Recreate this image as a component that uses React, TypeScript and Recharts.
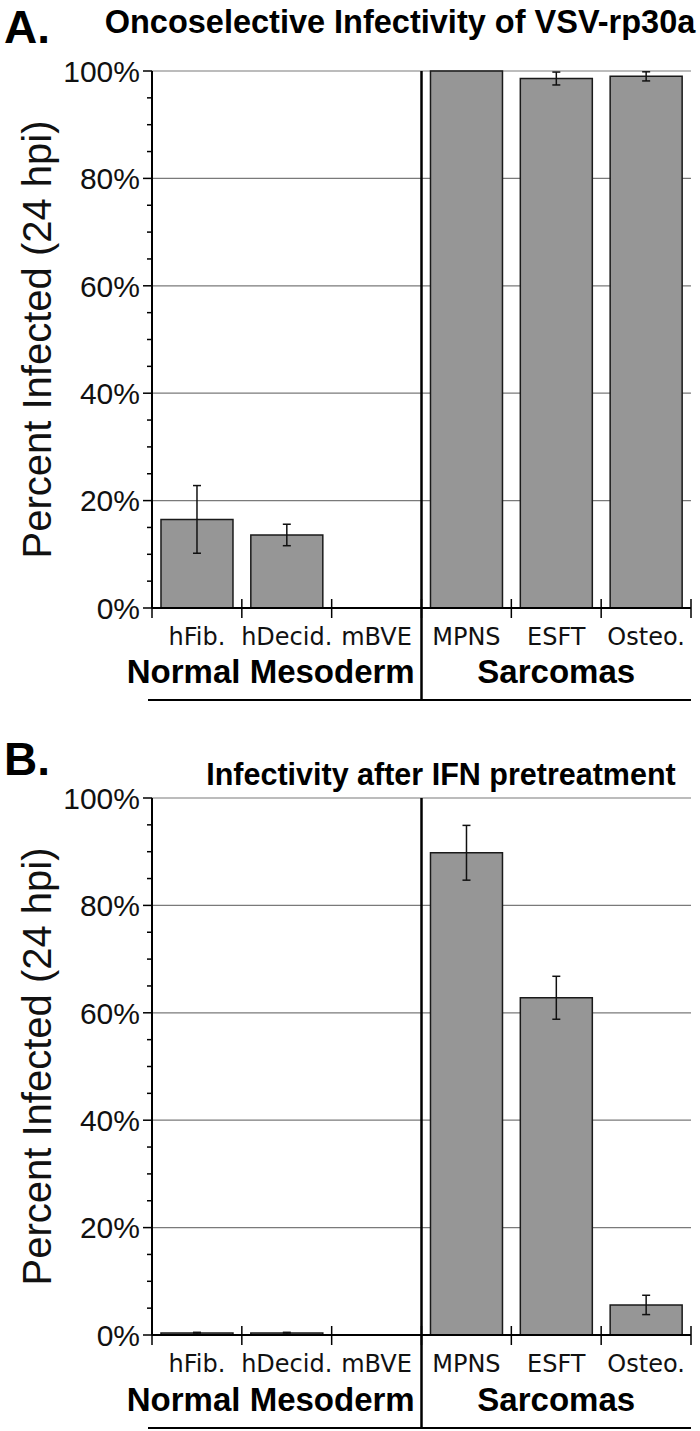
import React from "react";
import { BarChart, Bar, XAxis, YAxis, CartesianGrid, ErrorBar } from "recharts";

// cell lines, grouped: first three are normal mesoderm, rest are sarcomas
const categories = ["hFib.", "hDecid.", "mBVE", "MPNS", "ESFT", "Osteo."];
const normalCount = 3;

// panel A: untreated, percent infected at 24 hpi
const infectedA = [16.5, 13.6, 0, 100, 98.6, 99.0];
const errorA = [6.3, 2.0, null, null, 1.2, 0.85];

// panel B: after IFN pretreatment
const infectedB = [0.35, 0.35, 0, 89.8, 62.8, 5.6];
const errorB = [0.15, 0.15, null, 5.1, 4.0, 1.8];

const yTicks = [0, 5, 10, 15, 20, 25, 30, 35, 40, 45, 50, 55, 60, 65, 70, 75, 80, 85, 90, 95, 100];
const gridValues = [20, 40, 60, 80, 100];

const CHART_W = 700;
const CHART_H = 700;
const PLOT_LEFT = 152;
const PLOT_RIGHT = 691;
const PLOT_TOP = 71;
const PLOT_BOTTOM = 608;
const BAND = (PLOT_RIGHT - PLOT_LEFT) / categories.length;

const plainFont = "'Liberation Sans', Arial, sans-serif";
const boldFont = "'Liberation Sans', Arial, sans-serif";

function CategoryTick(props: any) {
  const { x, y, payload, index } = props;
  const left = x - BAND / 2;
  return (
    <g>
      <line x1={left} x2={left} y1={y - 9} y2={y + 10} stroke="#000" strokeWidth={1.5} />
      {index === categories.length - 1 && (
        <line x1={x + BAND / 2} x2={x + BAND / 2} y1={y - 9} y2={y + 10} stroke="#000" strokeWidth={1.5} />
      )}
      <text x={x} y={y + 37} textAnchor="middle" fontFamily="'DejaVu Sans', sans-serif" fontSize={24} fill="#111">
        {payload.value}
      </text>
    </g>
  );
}

function PercentTick(props: any) {
  const { x, y, payload } = props;
  const major = payload.value % 20 === 0;
  return (
    <g>
      <line x1={x - (major ? 9 : 5)} x2={x} y1={y} y2={y} stroke="#000" strokeWidth={1.5} />
      {major && (
        <text x={x - 12} y={y} dy="0.36em" textAnchor="end" fontFamily={plainFont} fontSize={30} fill="#111">
          {payload.value}%
        </text>
      )}
    </g>
  );
}

function Panel({ values, errors }: { values: number[]; errors: (number | null)[] }) {
  const data = categories.map((name, i) => ({ name, value: values[i], err: errors[i] }));
  return (
    <BarChart
      width={CHART_W}
      height={CHART_H}
      data={data}
      barCategoryGap="10%"
      margin={{ top: PLOT_TOP, right: CHART_W - PLOT_RIGHT, left: 0, bottom: CHART_H - PLOT_BOTTOM - 40 }}
    >
      <CartesianGrid horizontal vertical={false} horizontalValues={gridValues} stroke="#7a7a7a" strokeWidth={1.2} />
      <XAxis
        dataKey="name"
        interval={0}
        height={40}
        tickSize={0}
        tickMargin={0}
        tickLine={false}
        axisLine={{ stroke: "#000", strokeWidth: 2 }}
        tick={<CategoryTick />}
      />
      <YAxis
        width={PLOT_LEFT}
        domain={[0, 100]}
        ticks={yTicks}
        interval={0}
        tickSize={0}
        tickMargin={0}
        tickLine={false}
        axisLine={{ stroke: "#000", strokeWidth: 2 }}
        tick={<PercentTick />}
      />
      <YAxis
        yAxisId="r"
        orientation="right"
        width={0}
        domain={[0, 100]}
        tick={false}
        tickLine={false}
        axisLine={{ stroke: "#000", strokeWidth: 2 }}
      />
      <Bar dataKey="value" fill="#969696" stroke="#1a1a1a" strokeWidth={1.5} isAnimationActive={false}>
        <ErrorBar dataKey="err" width={4} stroke="#111" strokeWidth={1.5} />
      </Bar>
    </BarChart>
  );
}

function Decor({ top, letter, title, titleX, titleY, titleSize, letterY, groupY, bottomY }: any) {
  const divX = PLOT_LEFT + BAND * normalCount;
  const normalMid = PLOT_LEFT + (BAND * normalCount) / 2 - 16;
  const sarcMid = divX + (PLOT_RIGHT - divX) / 2;
  return (
    <g>
      <text x={4} y={letterY} fontFamily={boldFont} fontWeight="bold" fontSize={46} fill="#000">
        {letter}
      </text>
      <text x={titleX} y={titleY} textAnchor="middle" fontFamily={boldFont} fontWeight="bold" fontSize={titleSize} fill="#000">
        {title}
      </text>
      <line x1={divX} x2={divX} y1={top + PLOT_TOP} y2={bottomY + 1} stroke="#000" strokeWidth={2.5} />
      <line x1={148} x2={PLOT_RIGHT} y1={bottomY} y2={bottomY} stroke="#000" strokeWidth={2} />
      <text x={normalMid} y={groupY} textAnchor="middle" fontFamily={boldFont} fontWeight="bold" fontSize={33} fill="#000">
        Normal Mesoderm
      </text>
      <text x={sarcMid} y={groupY} textAnchor="middle" fontFamily={boldFont} fontWeight="bold" fontSize={33} fill="#000">
        Sarcomas
      </text>
      <text
        transform={`translate(37, ${top + (PLOT_TOP + PLOT_BOTTOM) / 2}) rotate(-90)`}
        textAnchor="middle"
        dy="0.35em"
        fontFamily={plainFont}
        fontSize={40}
        fill="#111"
      >
        Percent Infected (24 hpi)
      </text>
    </g>
  );
}

export default function App() {
  const offsetB = 727;
  return (
    <div style={{ position: "absolute", top: 0, left: 0, width: 700, height: 1431, background: "#fff" }}>
      <div style={{ position: "absolute", top: 0, left: 0 }}>
        <Panel values={infectedA} errors={errorA} />
      </div>
      <div style={{ position: "absolute", top: offsetB, left: 0 }}>
        <Panel values={infectedB} errors={errorB} />
      </div>
      <svg width={700} height={1431} style={{ position: "absolute", top: 0, left: 0, pointerEvents: "none" }}>
        <Decor
          top={0}
          letter="A."
          letterY={43}
          title="Oncoselective Infectivity of VSV-rp30a"
          titleX={400}
          titleY={33}
          titleSize={32.5}
          groupY={683}
          bottomY={700}
        />
        <Decor
          top={offsetB}
          letter="B."
          letterY={775}
          title="Infectivity after IFN pretreatment"
          titleX={441}
          titleY={785}
          titleSize={30.5}
          groupY={1411}
          bottomY={1428}
        />
      </svg>
    </div>
  );
}
